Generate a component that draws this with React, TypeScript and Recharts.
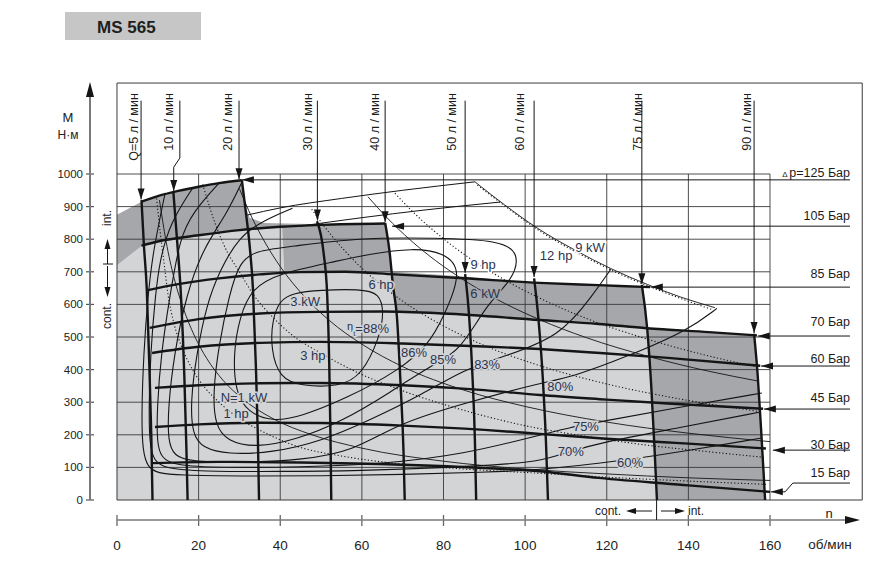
import React from 'react';
import { ComposedChart, Line, Area, XAxis, YAxis, ReferenceDot } from 'recharts';

type P = [number, number]; // [n об/мин, M Н·м]
const rows = (a: P[]) => a.map(([n, M]) => ({ n, M }));

const FONT = '"Liberation Sans", Arial, sans-serif';
const NARROW = '"Liberation Sans Narrow", "Liberation Sans", Arial, sans-serif';
const DARK = '#a6a7aa';
const LIGHT = '#d3d4d6';
const INK = '#151515';
const BLUE = '#2b3550';

const nTicks = [0, 20, 40, 60, 80, 100, 120, 140, 160];
const mTicks = [0, 100, 200, 300, 400, 500, 600, 700, 800, 900, 1000];
const gridN = [20, 40, 60, 80, 100, 120, 140, 160];
const gridM = [100, 200, 300, 400, 500, 600, 700, 800, 900, 1000];

// operating areas, upper edge
const intArea: P[] = [[0, 875], [6, 915], [15, 948], [22, 965], [30.6, 981], [31.5, 900], [32.5, 866], [36, 850], [50, 846], [65.7, 848], [66.5, 780], [67.2, 700], [80, 690], [103.6, 666], [128.6, 656], [129.9, 527], [145, 515], [156, 507], [157.5, 300], [158.8, 0]];
const contArea: P[] = [[0, 721], [3, 750], [6, 779], [10, 793], [20, 812], [30, 828], [40.5, 837], [41, 697], [50, 699], [60, 700], [67.3, 698], [68.4, 580], [80, 572], [103.6, 552], [118, 540], [129.9, 527], [131.2, 250], [132.2, 0]];

// Δp lines
const p125: P[] = [[6, 915], [10, 932], [15, 948], [20, 961], [25, 972], [30.6, 981]];
const p105: P[] = [[6, 780], [10, 793], [20, 812], [30, 828], [40, 838], [50, 844], [65.7, 848]];
const p85: P[] = [[7.6, 644], [15, 662], [25, 680], [35, 692], [44.8, 699], [56, 700], [68, 692], [85, 680], [103.6, 666], [118, 659], [130.6, 653]];
const p70: P[] = [[8, 528], [20, 555], [35, 572], [49.7, 577], [65, 578], [80, 572], [103.6, 552], [118, 540], [129.8, 527], [145, 515], [156.8, 505]];
const p60: P[] = [[8.6, 451], [20, 470], [35, 482], [49.7, 485], [70, 480], [90, 471], [103.6, 463], [118.4, 451], [135, 436], [157.6, 412]];
const p45: P[] = [[9.3, 344], [20, 352], [35, 358], [49.7, 359], [70, 352], [90, 337], [103.6, 322], [120, 308], [135, 296], [158.3, 280]];
const p30: P[] = [[9.3, 224], [20, 232], [35, 237], [49.7, 236], [70, 228], [90, 215], [103.6, 203], [120, 188], [140, 173], [159, 158]];
const p15: P[] = [[8.8, 113], [25, 117], [45, 115], [70, 108], [90, 98], [103.6, 88], [118, 68], [140, 45], [160, 25]];

// Q lines
const q5: P[] = [[6, 920], [6.6, 780], [7.3, 645], [7.9, 420], [8.4, 200], [8.7, 0]];
const q10: P[] = [[13.8, 946], [14.7, 800], [15.7, 620], [16.5, 380], [17, 160], [17.3, 0]];
const q20: P[] = [[30.6, 981], [31.4, 900], [32.5, 780], [33.3, 650], [34, 420], [34.5, 200], [34.8, 0]];
const q30: P[] = [[49, 855], [50.6, 760], [51.5, 629], [52, 420], [52.3, 200], [52.5, 0]];
const q40: P[] = [[65.7, 850], [66.8, 760], [67.6, 660], [68.6, 560], [69.5, 350], [70.2, 150], [70.5, 0]];
const q50: P[] = [[85.3, 693], [86.3, 560], [87.1, 380], [87.7, 180], [88, 0]];
const q60: P[] = [[102.2, 680], [103.3, 550], [104.3, 380], [105.1, 180], [105.6, 0]];
const q75: P[] = [[128.6, 660], [129.9, 527], [130.9, 350], [131.7, 160], [132.3, 0]];
const q90: P[] = [[156.1, 510], [157, 380], [157.8, 220], [158.4, 90], [158.8, 0]];

// Q labels and leaders
const qNames = ['Q=5 л / мин', '10 л / мин', '20 л / мин', '30 л / мин', '40 л / мин', '50 л / мин', '60 л / мин', '75 л / мин', '90 л / мин'];
const qLabelN = [5.1, 13.7, 28.2, 47.8, 64.2, 83.1, 99.7, 128.6, 155.4];
const qLeads: P[][] = [
  [[5.9, 1225], [5.9, 922]],
  [[15.4, 1225], [15.4, 1049], [13.9, 1021], [13.9, 948]],
  [[29.9, 1225], [29.9, 984]],
  [[49.1, 1225], [49.1, 857]],
  [[65.7, 1225], [65.7, 852]],
  [[85.3, 1225], [85.3, 696]],
  [[102.2, 1225], [102.2, 684]],
  [[128.6, 1225], [128.6, 662]],
  [[156.1, 1225], [156.1, 512]],
];

// Δp labels and leaders
const barNames = ['125', '105', '85', '70', '60', '45', '30', '15'];
const barLabelM = [991, 859, 681, 534, 420, 301, 156, 71];
const barLeads: P[][] = [
  [[179.6, 982], [30.6, 982]],
  [[179.6, 840], [67.4, 840]],
  [[179.6, 653], [130.8, 653]],
  [[179.6, 503], [157, 503]],
  [[179.6, 411], [157.8, 411]],
  [[179.6, 279], [158.5, 279]],
  [[179.6, 153], [160.7, 153]],
  [[179.6, 52], [165.6, 52], [163.7, 25], [160.2, 25]],
];

// power lines
const kw1: P[] = [[10.4, 920], [12, 795], [14, 680], [16, 597], [19, 503], [22, 434], [26, 367], [31, 308], [38, 251], [48, 199], [60, 159], [80, 119], [100, 95], [120, 80], [140, 68], [160, 60]];
const hp1: P[] = [[9.7, 925], [10.6, 820], [11.6, 720], [12.5, 630], [14, 540], [16, 465], [18.5, 400], [21.5, 345], [25, 300], [30, 250], [36, 208], [44, 165], [55, 135], [70, 110], [85, 95], [103.6, 82], [120, 70], [140, 58], [159, 48]];
const kw3: P[] = [[30, 955], [33, 868], [36.5, 785], [40, 716], [46, 623], [52, 551], [60, 478], [70, 409], [85, 337], [100, 287], [120, 239], [140, 205], [160, 179]];
const hp3: P[] = [[21, 968], [24, 850], [27, 761], [30, 700], [33.3, 632], [38, 563], [43, 505], [50, 450], [60, 385], [70, 335], [85, 275], [100, 228], [115, 195], [130, 168], [145, 148], [158.5, 131]];
const hp6: P[] = [[47.7, 892], [52, 820], [56, 762], [60, 711], [65, 657], [70, 610], [80, 534], [90, 474], [103.6, 412], [120, 356], [134.8, 317], [157.6, 271]];
const kw6: P[] = [[61.5, 930], [66, 868], [72, 796], [78, 735], [85.3, 672], [95, 603], [103.6, 553], [115, 498], [130, 441], [145, 395], [157, 365]];
const hp9: P[] = [[68.1, 941], [72, 890], [78, 822], [86.5, 741], [95, 675], [103.6, 619], [115, 557], [128, 501], [143, 448], [157, 408]];
const kw9: P[] = [[87.7, 976], [95, 905], [103, 834], [112, 768], [121, 710], [130, 661], [138, 623], [146.5, 590]];
const hp12: P[] = [[88.3, 966], [96, 893], [104, 822], [113, 757], [122, 700], [131, 652], [139, 614], [145.6, 585]];

// peak limits
const peak1: P[] = [[31.9, 874], [40, 896], [55, 925], [70, 950], [87.7, 976]];
const peak2: P[] = [[44.8, 840], [60, 866], [75, 889], [93.9, 914]];

// total efficiency
const eff60: P[] = [[11.8, 942], [8.8, 761], [7.6, 629], [6.5, 450], [6, 250], [6.3, 150], [7.5, 100], [10, 82], [15, 76], [30, 73], [50, 74], [70, 78], [90, 85], [103.6, 92], [118, 113], [129, 129], [158, 190]];
const eff70: P[] = [[18.6, 958], [13, 850], [10.5, 736], [9.4, 629], [8.2, 450], [7.8, 280], [8, 170], [9, 120], [12, 96], [20, 88], [40, 87], [60, 90], [80, 99], [96, 110], [104, 121], [111, 148], [118, 175], [138, 222], [157.6, 270]];
const eff75: P[] = [[25, 972], [18.6, 883], [15.4, 804], [13, 629], [10.8, 450], [9.8, 280], [9.8, 175], [10.8, 130], [14, 106], [25, 99], [45, 101], [65, 110], [85, 140], [103.6, 199], [111.5, 224], [118, 239], [138, 285], [158, 328]];
const eff80: P[] = [[30.6, 975], [27, 880], [21, 770], [17, 629], [14, 450], [12.5, 280], [12.5, 180], [14, 135], [18, 118], [30, 115], [45, 122], [58, 150], [69, 236], [86, 300], [103.6, 359], [111.5, 377], [125, 440], [140, 521], [147, 588]];
const eff83: P[] = [[43, 895], [36, 858], [30, 810], [25, 700], [22, 600], [19.5, 450], [18, 300], [18.5, 200], [21, 160], [27, 140], [38, 145], [50, 180], [62, 245], [75, 325], [85, 400], [93.8, 436], [108.6, 500], [116.6, 629], [121, 708]];
const eff85: P[] = [[59, 805], [42, 776], [34, 765], [30, 730], [27.5, 629], [25, 480], [23.5, 330], [24, 230], [27, 180], [34, 160], [44, 185], [55, 240], [67, 330], [77, 414], [84, 454], [90.7, 604], [97, 675], [98.7, 758], [93.8, 797], [78, 804]];
const eff86: P[] = [[84.8, 705], [80, 760], [72.5, 773], [62, 755], [52.9, 730], [39.9, 696], [33, 650], [30, 560], [28.5, 450], [29, 330], [32, 270], [38, 240], [44.8, 255], [56, 310], [69.3, 399], [76.2, 475], [80, 560]];
const eff88: P[] = [[39.9, 613], [43.1, 635], [49.7, 644], [59.5, 647], [64.4, 635], [65.4, 574], [64.4, 500], [60, 383], [54.6, 347], [44.8, 350], [39.9, 374], [37.7, 460], [38, 552]];

// curve labels: text, n, M (baseline), halo
const curveText: [string, number, number, string][] = [
  ['N=1 kW', 31.1, 300, LIGHT],
  ['1 hp', 29.2, 251, LIGHT],
  ['3 kW', 46.1, 595, LIGHT],
  ['3 hp', 48, 429, LIGHT],
  ['6 hp', 64.7, 647, LIGHT],
  ['6 kW', 90.2, 620, DARK],
  ['9 hp', 89.7, 709, '#fff'],
  ['12 hp', 107.6, 736, '#fff'],
  ['9 kW', 115.9, 761, '#fff'],
  ['86%', 72.8, 439, LIGHT],
  ['85%', 79.9, 417, LIGHT],
  ['83%', 90.7, 402, LIGHT],
  ['80%', 108.6, 334, LIGHT],
  ['75%', 114.9, 212, LIGHT],
  ['70%', 111.2, 135, LIGHT],
  ['60%', 125.7, 101, LIGHT],
];

const arrowHead = (dir: 'down' | 'left', last: number) => (p: any) => {
  const { cx, cy, index } = p;
  if (index !== last || cx == null || cy == null) return <g key={`a${index}`} />;
  const d =
    dir === 'down'
      ? `M${cx},${cy} L${cx - 3.5},${cy - 11} L${cx + 3.5},${cy - 11} Z`
      : `M${cx},${cy} L${cx + 12},${cy - 3.5} L${cx + 12},${cy + 3.5} Z`;
  return <path key={`a${index}`} d={d} fill={INK} />;
};

const XTick = (props: any) => {
  const { x, payload } = props;
  return (
    <g>
      <line x1={x} x2={x} y1={515} y2={526} stroke="#666" strokeWidth={1.3} />
      <text x={x} y={550} textAnchor="middle" fontSize={13.5} fontFamily={NARROW} fill="#222">
        {payload.value}
      </text>
    </g>
  );
};

const YTick = (props: any) => {
  const { y, payload } = props;
  return (
    <g>
      <line x1={86} x2={94} y1={y} y2={y} stroke="#555" strokeWidth={1.2} />
      <text x={83} y={y + 4} textAnchor="end" fontSize={11.5} fontFamily={FONT} fill="#222">
        {payload.value}
      </text>
    </g>
  );
};

export default function App() {
  let k = 0;
  const line = (data: P[], w = 1, opt: { dash?: string; type?: any; dot?: any; color?: string } = {}) => (
    <Line
      key={`l${k++}`}
      data={rows(data)}
      dataKey="M"
      type={opt.type ?? 'linear'}
      stroke={opt.color ?? INK}
      strokeWidth={w}
      strokeDasharray={opt.dash}
      dot={opt.dot ?? false}
      activeDot={false}
      isAnimationActive={false}
      legendType="none"
    />
  );
  const text = (key: string, n: number, M: number, render: (cx: number, cy: number) => React.ReactElement) => (
    <ReferenceDot
      key={key}
      x={n}
      y={M}
      r={1}
      ifOverflow="visible"
      fill="none"
      stroke="none"
      shape={(p: any) => render(p.cx, p.cy)}
    />
  );
  const DOT = '1.2 2.2';

  return (
    <div style={{ position: 'absolute', left: 0, top: 0, width: 886, height: 573, background: '#fff' }}>
      <ComposedChart width={886} height={573} margin={{ top: 82.72, right: 22.13, bottom: 0.11, left: 28.43 }}>
        <XAxis type="number" dataKey="n" domain={[-7, 183]} ticks={nTicks} interval={0} axisLine={false} tickLine={false} tick={XTick} height={53} />
        <YAxis type="number" domain={[-61, 1280]} ticks={mTicks} interval={0} axisLine={false} tickLine={false} tick={YTick} width={60} />

        <Area data={rows(intArea)} dataKey="M" type="linear" fill={DARK} fillOpacity={1} stroke="none" isAnimationActive={false} legendType="none" activeDot={false} />
        <Area data={rows(contArea)} dataKey="M" type="linear" fill={LIGHT} fillOpacity={1} stroke="none" isAnimationActive={false} legendType="none" activeDot={false} />

        {gridN.map((n) => line([[n, 0], [n, 1000]], 0.9, { color: '#3a3a3a' }))}
        {gridM.map((m) => line([[0, m], [160, m]], 0.9, { color: '#3a3a3a' }))}
        {line([[0, 0], [0, 1279]], 1, { color: '#3a3a3a' })}
        {line([[0, 1279], [182.6, 1279]], 1, { color: '#3a3a3a' })}
        {line([[182.6, 1279], [182.6, 0]], 1, { color: '#3a3a3a' })}
        {line([[0, 0], [182.6, 0]], 1, { color: '#3a3a3a' })}

        {[eff60, eff70, eff75, eff80, eff83].map((e) => line(e, 1.1, { type: 'basis' }))}
        {[eff85, eff86, eff88].map((e) => line(e, 1.1, { type: 'basisClosed' }))}

        {[kw1, kw3, kw6, kw9].map((e) => line(e, 0.9, { type: 'monotone' }))}
        {[hp1, hp3, hp6, hp9, hp12].map((e) => line(e, 1.1, { type: 'monotone', dash: DOT }))}
        {line(peak1, 1, { type: 'monotone' })}
        {line(peak2, 1, { type: 'monotone' })}

        {[p125, p105, p85, p70, p60, p45, p30, p15].map((e) => line(e, 2.4, { type: 'monotone' }))}
        {[q5, q10, q20, q30, q40, q50, q60, q75, q90].map((e) => line(e, 2.4, { type: 'monotone' }))}

        {qLeads.map((e) => line(e, 1, { dot: arrowHead('down', e.length - 1) }))}
        {barLeads.map((e) => line(e, 1, { dot: arrowHead('left', e.length - 1) }))}

        {qNames.map((t, i) =>
          text(`q${i}`, qLabelN[i], 1248, (cx, cy) => (
            <text x={cx} y={cy} transform={`rotate(-90 ${cx} ${cy})`} textAnchor="end" fontSize={12.5} fontFamily={FONT} fill="#1c1c1c">
              {t}
            </text>
          ))
        )}
        {barNames.map((b, i) =>
          text(`b${i}`, 179.6, barLabelM[i], (cx, cy) => (
            <text x={cx} y={cy} textAnchor="end" fontSize={12.5} fontFamily={FONT} fill="#1c1c1c">
              {i === 0 ? (
                <>
                  <tspan fontSize={8}>Δ </tspan>
                  <tspan>{`p=${b} Бар`}</tspan>
                </>
              ) : (
                `${b} Бар`
              )}
            </text>
          ))
        )}
        {curveText.map(([t, n, M, bg], i) =>
          text(`c${i}`, n, M, (cx, cy) => (
            <text x={cx} y={cy} textAnchor="middle" fontSize={13} fontFamily={FONT} fill={BLUE} stroke={bg} strokeWidth={3} paintOrder="stroke">
              {t}
            </text>
          ))
        )}
        {text('eta', 61.5, 512, (cx, cy) => (
          <text x={cx} y={cy} textAnchor="middle" fontSize={13} fontFamily={FONT} fill={BLUE} stroke={LIGHT} strokeWidth={3} paintOrder="stroke">
            <tspan fontSize={11} dy={-3}>η</tspan>
            <tspan fontSize={8} dy={6}>t</tspan>
            <tspan dy={-3}>=88%</tspan>
          </text>
        ))}
      </ComposedChart>

      <svg width={886} height={573} style={{ position: 'absolute', left: 0, top: 0, pointerEvents: 'none' }}>
        <rect x={65} y={12} width={136} height={28} fill="#c6c6c6" />
        <text x={97} y={33} fontSize={17} fontWeight="bold" fontFamily={FONT} fill="#1e1e1e">
          MS 565
        </text>

        <line x1={90} x2={90} y1={500} y2={92} stroke="#7a7a7a" strokeWidth={2} />
        <path d="M90,82 L86,97 L94,97 Z" fill={INK} />
        <text x={68} y={122} textAnchor="middle" fontSize={13} fontFamily={FONT} fill="#222">M</text>
        <text x={68} y={139} textAnchor="middle" fontSize={12} fontFamily={FONT} fill="#222">Н·м</text>

        <text x={111} y={218} transform="rotate(-90 111 218)" textAnchor="middle" fontSize={12} fontFamily={FONT} fill="#2a2a2a">int.</text>
        <line x1={107.5} x2={107.5} y1={264} y2={248} stroke={INK} strokeWidth={1} />
        <path d="M107.5,239 L104.5,249 L110.5,249 Z" fill={INK} />
        <line x1={103} x2={113} y1={264} y2={264} stroke={INK} strokeWidth={1} />
        <line x1={107.5} x2={107.5} y1={266} y2={288} stroke={INK} strokeWidth={1} />
        <path d="M107.5,297 L104.5,287 L110.5,287 Z" fill={INK} />
        <text x={111} y={316} transform="rotate(-90 111 316)" textAnchor="middle" fontSize={12} fontFamily={FONT} fill="#2a2a2a">cont.</text>

        <line x1={117} x2={847} y1={520} y2={520} stroke="#7a7a7a" strokeWidth={1.6} />
        <path d="M860,520 L845,516 L845,524 Z" fill={INK} />
        <text x={829} y={518} textAnchor="middle" fontSize={13} fontFamily={NARROW} fill="#222">n</text>
        <text x={830} y={549} textAnchor="middle" fontSize={13.5} fontFamily={NARROW} fill="#222">об/мин</text>

        <text x={621} y={515} textAnchor="end" fontSize={12} fontFamily={NARROW} fill="#222">cont.</text>
        <line x1={634} x2={652} y1={511} y2={511} stroke={INK} strokeWidth={1} />
        <path d="M626,511 L636,508 L636,514 Z" fill={INK} />
        <line x1={656.6} x2={656.6} y1={500} y2={520} stroke={INK} strokeWidth={1} />
        <line x1={661} x2={677} y1={511} y2={511} stroke={INK} strokeWidth={1} />
        <path d="M685,511 L675,508 L675,514 Z" fill={INK} />
        <text x={688} y={515} fontSize={12} fontFamily={NARROW} fill="#222">int.</text>
      </svg>
    </div>
  );
}
